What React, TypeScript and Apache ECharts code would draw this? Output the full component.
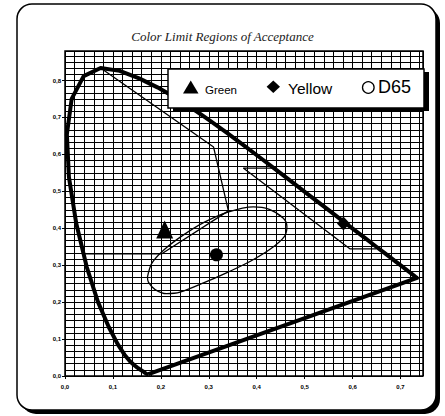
import React, { useEffect, useRef } from 'react';
import * as echarts from 'echarts';

// CIE 1931 spectral locus (380 nm .. 700 nm), closed by the purple line
const locusX: number[] = [
  0.1741, 0.1740, 0.1738, 0.1737, 0.1733, 0.1730, 0.1726, 0.1721, 0.1714, 0.1703,
  0.1689, 0.1669, 0.1644, 0.1611, 0.1566, 0.1510, 0.1440, 0.1355, 0.1241, 0.1096,
  0.0913, 0.0687, 0.0454, 0.0235, 0.0082, 0.0039, 0.0139, 0.0389, 0.0743, 0.1142,
  0.1547, 0.1929, 0.2296, 0.2658, 0.3016, 0.3373, 0.3731, 0.4087, 0.4441, 0.4788,
  0.5125, 0.5448, 0.5752, 0.6029, 0.6270, 0.6482, 0.6658, 0.6801, 0.6915, 0.7006,
  0.7079, 0.7140, 0.7190, 0.7230, 0.7260, 0.7283, 0.7300, 0.7311, 0.7320, 0.7327,
  0.7334, 0.7340, 0.7344, 0.7346, 0.7347, 0.1741,
];
const locusY: number[] = [
  0.0050, 0.0050, 0.0049, 0.0049, 0.0048, 0.0048, 0.0048, 0.0048, 0.0051, 0.0058,
  0.0069, 0.0086, 0.0109, 0.0138, 0.0177, 0.0227, 0.0297, 0.0399, 0.0578, 0.0868,
  0.1327, 0.2007, 0.2950, 0.4127, 0.5384, 0.6548, 0.7502, 0.8120, 0.8338, 0.8262,
  0.8059, 0.7816, 0.7543, 0.7243, 0.6923, 0.6589, 0.6245, 0.5896, 0.5547, 0.5202,
  0.4866, 0.4544, 0.4242, 0.3965, 0.3725, 0.3514, 0.3340, 0.3197, 0.3083, 0.2993,
  0.2920, 0.2859, 0.2809, 0.2770, 0.2740, 0.2717, 0.2700, 0.2689, 0.2680, 0.2673,
  0.2666, 0.2660, 0.2656, 0.2654, 0.2653, 0.0050,
];

// Green acceptance region boundary
const greenX: number[] = [0.040, 0.202, 0.341, 0.310, 0.0743];
const greenY: number[] = [0.331, 0.331, 0.447, 0.620, 0.8338];

// Yellow acceptance region boundary
const yellowX: number[] = [0.432, 0.372, 0.595, 0.650];
const yellowY: number[] = [0.563, 0.563, 0.344, 0.344];

// D65 (white) tolerance ellipse
const whiteX: number[] = [
  0.172, 0.181, 0.205, 0.245, 0.290, 0.340, 0.393, 0.425, 0.455, 0.463,
  0.458, 0.430, 0.386, 0.338, 0.289, 0.240, 0.212, 0.188, 0.174, 0.172,
];
const whiteY: number[] = [
  0.268, 0.305, 0.340, 0.380, 0.416, 0.444, 0.458, 0.452, 0.428, 0.405,
  0.378, 0.345, 0.310, 0.280, 0.252, 0.227, 0.223, 0.234, 0.254, 0.268,
];

// Marker points
const markerNames: string[] = ['Green', 'Yellow', 'D65'];
const markerX: number[] = [0.208, 0.581, 0.316];
const markerY: number[] = [0.397, 0.413, 0.328];

const xTickLabels: string[] = ['0,0', '0,1', '0,2', '0,3', '0,4', '0,5', '0,6', '0,7'];
const yTickLabels: string[] = ['0,0', '0,1', '0,2', '0,3', '0,4', '0,5', '0,6', '0,7', '0,8'];

const zip = (xs: number[], ys: number[]) => xs.map((x, i) => [x, ys[i]]);

const SANS = '"Liberation Sans", Arial, Helvetica, sans-serif';

const labelFmt = (labels: string[]) => (v: number) => {
  const k = Math.round(v * 10);
  if (Math.abs(v * 10 - k) > 1e-6) return '';
  return labels[k] ?? '';
};

export default function App() {
  const ref = useRef<HTMLDivElement>(null);

  useEffect(() => {
    if (!ref.current) return;
    const chart = echarts.init(ref.current, undefined, { renderer: 'svg' });

    const labelStyle = {
      fontSize: 6,
      fontWeight: 'bold' as const,
      fontFamily: SANS,
      color: '#000',
    };

    const markerStyle = { color: '#000', opacity: 1 };

    const option: any = {
      animation: false,
      backgroundColor: 'transparent',
      title: {
        text: 'Color Limit Regions of Acceptance',
        left: 'center',
        top: 25,
        textStyle: {
          fontFamily: '"Liberation Serif", "Times New Roman", serif',
          fontStyle: 'italic',
          fontWeight: 'normal',
          fontSize: 13,
          color: '#222',
        },
      },
      grid: {
        left: 65,
        top: 51,
        width: 358,
        height: 325,
        show: true,
        borderColor: '#000',
        borderWidth: 1.5,
        backgroundColor: 'transparent',
        z: 1,
      },
      xAxis: [
        {
          type: 'value',
          min: 0,
          max: 0.747,
          interval: 0.1,
          position: 'bottom',
          axisLine: { show: false },
          axisTick: { show: true, length: 3, lineStyle: { color: '#000', width: 1 } },
          axisLabel: { ...labelStyle, margin: 8, formatter: labelFmt(xTickLabels), showMaxLabel: false },
          splitLine: { show: false },
        },
        {
          type: 'value',
          min: 0,
          max: 0.747,
          interval: 0.02,
          position: 'top',
          axisLine: { show: false },
          axisTick: { show: false },
          axisLabel: { show: false },
          splitLine: { show: true, lineStyle: { color: '#000', width: 1 } },
        },
      ],
      yAxis: [
        {
          type: 'value',
          min: 0,
          max: 0.88,
          interval: 0.1,
          position: 'left',
          axisLine: { show: false },
          axisTick: { show: true, length: 3, lineStyle: { color: '#000', width: 1 } },
          axisLabel: { ...labelStyle, margin: 4, formatter: labelFmt(yTickLabels), showMaxLabel: false },
          splitLine: { show: false },
        },
        {
          type: 'value',
          min: 0,
          max: 0.88,
          interval: 1 / 60,
          position: 'right',
          axisLine: { show: false },
          axisTick: { show: false },
          axisLabel: { show: false },
          splitLine: { show: true, lineStyle: { color: '#000', width: 1 } },
        },
      ],
      series: [
        {
          name: 'Spectral locus',
          type: 'line',
          data: zip(locusX, locusY),
          symbol: 'none',
          silent: true,
          lineStyle: { color: '#000', width: 4, join: 'round', opacity: 1 },
          z: 3,
        },
        {
          name: 'Green region',
          type: 'line',
          data: zip(greenX, greenY),
          symbol: 'none',
          silent: true,
          lineStyle: { color: '#000', width: 1.3, opacity: 1 },
          z: 3,
        },
        {
          name: 'Yellow region',
          type: 'line',
          data: zip(yellowX, yellowY),
          symbol: 'none',
          silent: true,
          lineStyle: { color: '#000', width: 1.3, opacity: 1 },
          z: 3,
        },
        {
          name: 'D65 region',
          type: 'line',
          data: zip(whiteX, whiteY),
          symbol: 'none',
          smooth: 0.3,
          silent: true,
          lineStyle: { color: '#000', width: 1.3, opacity: 1 },
          z: 3,
        },
        {
          name: markerNames[0],
          type: 'scatter',
          data: [[markerX[0], markerY[0]]],
          symbol: 'triangle',
          symbolSize: [17, 18],
          itemStyle: markerStyle,
          z: 4,
        },
        {
          name: markerNames[1],
          type: 'scatter',
          data: [[markerX[1], markerY[1]]],
          symbol: 'diamond',
          symbolSize: [13, 14],
          itemStyle: markerStyle,
          z: 4,
        },
        {
          name: markerNames[2],
          type: 'scatter',
          data: [[markerX[2], markerY[2]]],
          symbol: 'circle',
          symbolSize: 13,
          itemStyle: markerStyle,
          z: 4,
        },
      ],
      graphic: [
        // outer rounded frame with hard shadow
        {
          type: 'rect',
          z: -20,
          silent: true,
          shape: { x: 21, y: 8, width: 419, height: 406, r: 15 },
          style: { fill: '#000' },
        },
        {
          type: 'rect',
          z: -19,
          silent: true,
          shape: { x: 17, y: 4, width: 419, height: 406, r: 15 },
          style: { fill: '#fff', stroke: '#000', lineWidth: 1.5 },
        },
        // legend box
        {
          type: 'rect',
          z: 100,
          silent: true,
          shape: { x: 173, y: 72, width: 256, height: 39 },
          style: { fill: '#000' },
        },
        {
          type: 'rect',
          z: 101,
          silent: true,
          shape: { x: 168, y: 69, width: 256, height: 39 },
          style: { fill: '#fff', stroke: '#000', lineWidth: 1.5 },
        },
        {
          type: 'polygon',
          z: 102,
          silent: true,
          shape: { points: [[183, 93.5], [198.5, 93.5], [190.75, 80.5]] },
          style: { fill: '#000' },
        },
        {
          type: 'text',
          z: 102,
          silent: true,
          style: {
            x: 205,
            y: 89.5,
            text: markerNames[0],
            fontSize: 11.5,
            fontFamily: SANS,
            fill: '#000',
            verticalAlign: 'middle',
          },
        },
        {
          type: 'polygon',
          z: 102,
          silent: true,
          shape: { points: [[273.3, 80.5], [280, 86.7], [273.3, 92.9], [266.6, 86.7]] },
          style: { fill: '#000' },
        },
        {
          type: 'text',
          z: 102,
          silent: true,
          style: {
            x: 288,
            y: 88.2,
            text: markerNames[1],
            fontSize: 15.5,
            fontFamily: SANS,
            fill: '#000',
            verticalAlign: 'middle',
          },
        },
        {
          type: 'circle',
          z: 102,
          silent: true,
          shape: { cx: 368.3, cy: 87.5, r: 5.8 },
          style: { fill: '#fff', stroke: '#000', lineWidth: 1.3 },
        },
        {
          type: 'text',
          z: 102,
          silent: true,
          style: {
            x: 378,
            y: 87.4,
            text: markerNames[2],
            fontSize: 18,
            fontFamily: SANS,
            fill: '#000',
            verticalAlign: 'middle',
          },
        },
      ],
    };

    chart.setOption(option);
    return () => {
      chart.dispose();
    };
  }, []);

  return (
    <div
      ref={ref}
      style={{ position: 'absolute', left: 0, top: 0, width: 445, height: 416 }}
    />
  );
}
